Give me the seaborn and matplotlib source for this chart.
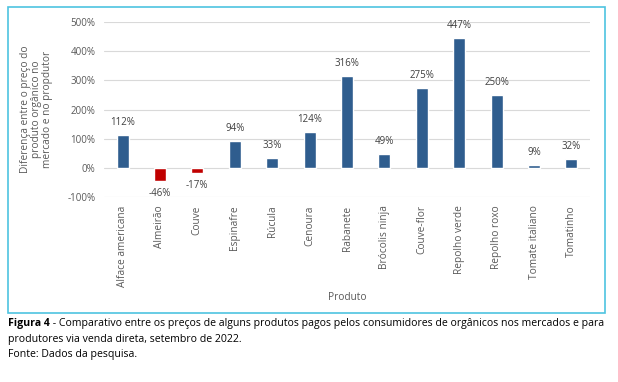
import matplotlib
matplotlib.use("Agg")
import matplotlib.pyplot as plt
import seaborn as sns
import pandas as pd
from matplotlib.patches import Rectangle

produtos = ["Alface americana", "Almeirão", "Couve", "Espinafre", "Rúcula", "Cenoura",
            "Rabanete", "Brócolis ninja", "Couve-flor", "Repolho verde", "Repolho roxo",
            "Tomate italiano", "Tomatinho"]
diferenca = [112, -46, -17, 94, 33, 124, 316, 49, 275, 447, 250, 9, 32]
yticks = [-100, 0, 100, 200, 300, 400, 500]

BLUE = "#2F5D8E"
RED = "#C00000"
GRAY = "#595959"

data = pd.DataFrame({"produto": produtos, "dif": diferenca})
data["sinal"] = ["pos" if v >= 0 else "neg" for v in data["dif"]]

sns.set_style("white")
plt.rcParams["font.family"] = ["Open Sans", "DejaVu Sans"]

fig = plt.figure(figsize=(6.18, 3.82), dpi=100)
ax = fig.add_axes([0.168, 0.484, 0.787, 0.458])

sns.barplot(data=data, x="produto", y="dif", hue="sinal",
            palette={"pos": BLUE, "neg": RED}, width=0.32, legend=False,
            dodge=False, saturation=1, ax=ax, zorder=3)

ax.set_ylim(-100, 500)
ax.set_yticks(yticks)
ax.set_yticklabels([f"{t}%" for t in yticks], fontsize=7, color=GRAY)
ax.grid(axis="y", color="#D9D9D9", linewidth=0.8, zorder=0)
ax.set_axisbelow(True)
for s in ax.spines.values():
    s.set_visible(False)
ax.tick_params(axis="both", length=0, pad=6)
ax.set_xticks(range(len(produtos)))
ax.set_xticklabels(produtos, rotation=90, fontsize=7.3, color=GRAY)
ax.set_xlabel("Produto", fontsize=7.3, color=GRAY, labelpad=4)
ax.set_ylabel("Diferença entre o preço do\nproduto orgânico no\nmercado e no propdutor",
              fontsize=7.3, color=GRAY, labelpad=10, linespacing=1.0)

for i, v in enumerate(diferenca):
    if v >= 0:
        ax.annotate(f"{v}%", (i, v), xytext=(0, 5), textcoords="offset points",
                    ha="center", va="bottom", fontsize=7, color="#404040")
    else:
        ax.annotate(f"{v}%", (i, v), xytext=(0, -5), textcoords="offset points",
                    ha="center", va="top", fontsize=7, color="#404040")

# moldura azul do gráfico
fig.patches.append(Rectangle((8 / 618, 1 - 313 / 382), 597 / 618, 306 / 382,
                             transform=fig.transFigure, fill=False,
                             edgecolor="#4EC3E0", linewidth=1.2))

cap_kw = dict(fontsize=7.6, color="black", ha="left", va="baseline")
fig.text(8 / 618, 1 - 326 / 382, "Figura 4", fontweight="bold", **cap_kw)
fig.text(50 / 618, 1 - 326 / 382,
         " - Comparativo entre os preços de alguns produtos pagos pelos consumidores de orgânicos nos mercados e para",
         **cap_kw)
fig.text(8 / 618, 1 - 342 / 382, "produtores via venda direta, setembro de 2022.", **cap_kw)
fig.text(8 / 618, 1 - 357 / 382, "Fonte: Dados da pesquisa.", **cap_kw)

fig.savefig("out.png", dpi=100)
